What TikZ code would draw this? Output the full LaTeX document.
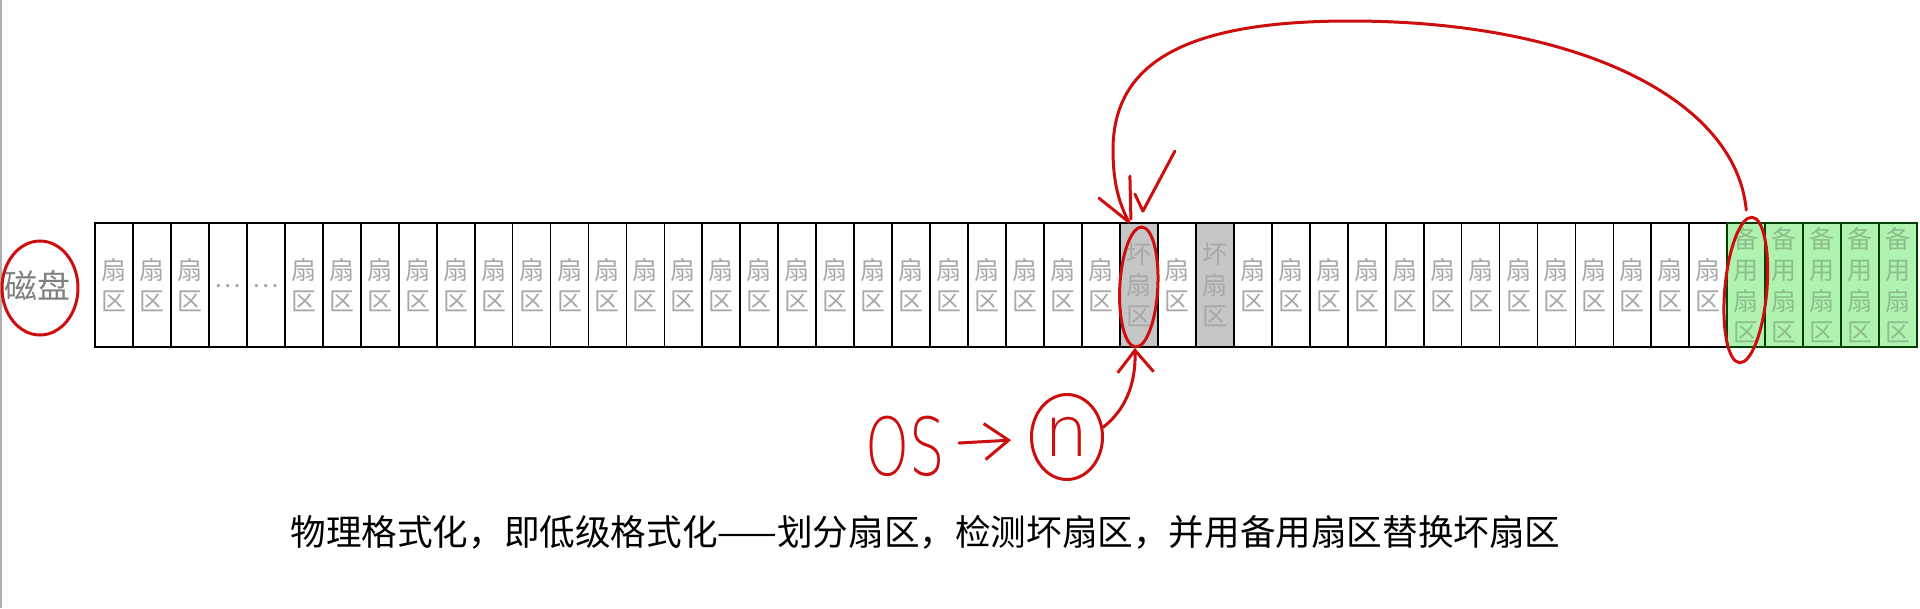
\documentclass[tikz,border=0pt]{standalone}
\usepackage{fontspec}
\newfontfamily\cjk{Noto Sans CJK SC}
\newfontfamily\hand{DejaVu Sans ExtraLight}
\usetikzlibrary{shapes.geometric,arrows.meta}
\definecolor{penred}{RGB}{204,14,14}
\definecolor{labelgray}{RGB}{168,168,168}
\definecolor{diskgray}{RGB}{128,128,128}
\definecolor{badgray}{RGB}{198,198,198}
\definecolor{sparegreen}{RGB}{176,242,176}
\definecolor{sparetext}{RGB}{140,190,140}
\definecolor{edgegray}{RGB}{176,176,176}

\begin{document}
\begin{tikzpicture}[x=1pt,y=1pt,
  sector/.style={draw,line width=1.8pt,minimum width=37.96pt,minimum height=124pt,inner sep=0pt,align=center,text=labelgray,font=\cjk\fontsize{25}{31}\selectfont},
  badsector/.style={sector,fill=badgray},
  sparesector/.style={sector,fill=sparegreen,draw=black!75!green,text=sparetext},
  pen/.style={draw=penred,line width=3pt,line cap=round,line join=round}]
\useasboundingbox (0,0) rectangle (1920,-608);
\draw[line width=2pt,edgegray] (1,0) -- (1,-608);

\node[text=diskgray,inner sep=0pt,font=\cjk\fontsize{33}{33}\selectfont] (disk) at (38,-286) {磁盘};

\node[sector] (s1) at (113.98,-285) {扇\\区};
\node[sector] (s2) at (151.94,-285) {扇\\区};
\node[sector] (s3) at (189.90,-285) {扇\\区};
\node[sector] (s4) at (227.86,-285) {\raisebox{-6pt}{…}};
\node[sector] (s5) at (265.82,-285) {\raisebox{-6pt}{…}};
\node[sector] (s6) at (303.78,-285) {扇\\区};
\node[sector] (s7) at (341.74,-285) {扇\\区};
\node[sector] (s8) at (379.70,-285) {扇\\区};
\node[sector] (s9) at (417.66,-285) {扇\\区};
\node[sector] (s10) at (455.62,-285) {扇\\区};
\node[sector] (s11) at (493.58,-285) {扇\\区};
\node[sector] (s12) at (531.54,-285) {扇\\区};
\node[sector] (s13) at (569.50,-285) {扇\\区};
\node[sector] (s14) at (607.46,-285) {扇\\区};
\node[sector] (s15) at (645.42,-285) {扇\\区};
\node[sector] (s16) at (683.38,-285) {扇\\区};
\node[sector] (s17) at (721.34,-285) {扇\\区};
\node[sector] (s18) at (759.30,-285) {扇\\区};
\node[sector] (s19) at (797.26,-285) {扇\\区};
\node[sector] (s20) at (835.22,-285) {扇\\区};
\node[sector] (s21) at (873.18,-285) {扇\\区};
\node[sector] (s22) at (911.14,-285) {扇\\区};
\node[sector] (s23) at (949.10,-285) {扇\\区};
\node[sector] (s24) at (987.06,-285) {扇\\区};
\node[sector] (s25) at (1025.02,-285) {扇\\区};
\node[sector] (s26) at (1062.98,-285) {扇\\区};
\node[sector] (s27) at (1100.94,-285) {扇\\区};
\node[badsector] (s28) at (1138.90,-285) {坏\\扇\\区};
\node[sector] (s29) at (1176.86,-285) {扇\\区};
\node[badsector] (s30) at (1214.82,-285) {坏\\扇\\区};
\node[sector] (s31) at (1252.78,-285) {扇\\区};
\node[sector] (s32) at (1290.74,-285) {扇\\区};
\node[sector] (s33) at (1328.70,-285) {扇\\区};
\node[sector] (s34) at (1366.66,-285) {扇\\区};
\node[sector] (s35) at (1404.62,-285) {扇\\区};
\node[sector] (s36) at (1442.58,-285) {扇\\区};
\node[sector] (s37) at (1480.54,-285) {扇\\区};
\node[sector] (s38) at (1518.50,-285) {扇\\区};
\node[sector] (s39) at (1556.46,-285) {扇\\区};
\node[sector] (s40) at (1594.42,-285) {扇\\区};
\node[sector] (s41) at (1632.38,-285) {扇\\区};
\node[sector] (s42) at (1670.34,-285) {扇\\区};
\node[sector] (s43) at (1708.30,-285) {扇\\区};
\node[sparesector] (s44) at (1746.26,-285) {备\\用\\扇\\区};
\node[sparesector] (s45) at (1784.22,-285) {备\\用\\扇\\区};
\node[sparesector] (s46) at (1822.18,-285) {备\\用\\扇\\区};
\node[sparesector] (s47) at (1860.14,-285) {备\\用\\扇\\区};
\node[sparesector] (s48) at (1898.10,-285) {备\\用\\扇\\区};

\node[inner sep=0pt,font=\cjk\fontsize{35.6}{36}\selectfont] (caption) at (925.5,-532) {物理格式化，即低级格式化——划分扇区，检测坏扇区，并用备用扇区替换坏扇区};

% red pen marks
\draw[pen] ([shift={(2,-2)}]disk.center) ellipse [x radius=38pt,y radius=47pt];
\draw[pen,rotate around={-3:(s28)}] ([yshift=-2pt]s28.center) ellipse [x radius=19pt,y radius=60pt];
\draw[pen,rotate around={-5:(s44)}] ([yshift=-5pt]s44.center) ellipse [x radius=21pt,y radius=73pt];

\coordinate (arcstart) at ([yshift=12pt]s44.north);
\coordinate (arctop) at (1350,-21);
\coordinate (arcleft) at (1113,-150);
\coordinate (badtop) at ([xshift=-10pt]s28.north);
\coordinate (badbottom) at ([xshift=-4pt]s28.south);
\draw[pen] (arcstart) .. controls (1736,-100) and (1580,-21) .. (arctop)
  .. controls (1190,-21) and (1113,-60) .. (arcleft)
  .. controls (1113,-185) and (1120,-205) .. (badtop);
\draw[pen] (badtop) -- ++(-30,24);
\draw[pen] ([shift={(1,46)}]badtop) -- ++(1,-43);
\draw[pen] ([shift={(6,28)}]badtop) -- ++(8,-17) -- ++(32,60);

\node[text=penred,inner sep=0pt,font=\hand\fontsize{80}{80}\selectfont] (os) at (905,-446) {\scalebox{0.7}[1]{OS}};
\node[pen,ellipse,minimum width=71pt,minimum height=85pt,inner sep=0pt,text=penred,font=\hand\fontsize{70}{70}\selectfont] (n) at (1067,-437) {n};
\draw[pen,-{Straight Barb[length=24pt,width=36pt]},shorten <=14pt,shorten >=19pt] (os) -- (n);
\draw[pen,-{Straight Barb[length=22pt,width=36pt]}] (n.15) .. controls (1125,-410) and (1136,-385) .. (badbottom);
\end{tikzpicture}
\end{document}
